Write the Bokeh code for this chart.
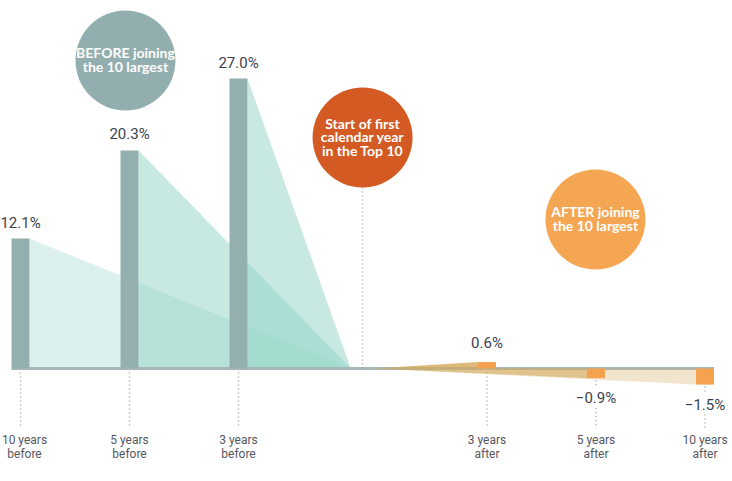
from bokeh.plotting import figure
from bokeh.models import Range1d
from bokeh.core.properties import value
from bokeh.embed import file_html
from bokeh.resources import INLINE

# ---- data ----
before_labels = ["10 years\nbefore", "5 years\nbefore", "3 years\nbefore"]
before_values = [12.1, 20.3, 27.0]
after_labels = ["3 years\nafter", "5 years\nafter", "10 years\nafter"]
after_values = [0.6, -0.9, -1.5]
circle_texts = ["BEFORE joining\nthe 10 largest",
                "Start of first\ncalendar year\nin the Top 10",
                "AFTER joining\nthe 10 largest"]

# ---- layout ----
W, H = 732, 481
PXX = 109.0                  # screen px per x unit
PX = 10.739                  # screen px per y unit
X0 = -20 / PXX
X1 = X0 + W / PXX
Y1 = 368 / PX
Y0 = Y1 - H / PX
before_x = [0, 1, 2]
after_x = [4.28, 5.28, 6.28]
bw = 18 / PXX
apex_before = 3.03
apex_after = 3.24
center_x = 3.138
circle_pos = [(0.963, 28.68), (center_x, 21.51), (5.275, 13.87)]
circle_colors = ["#93aeae", "#d35a22", "#f5a653"]
R = 50  # circle radius px

NUM_FONT = value("Roboto")
LAB_FONT = value("Roboto")

p = figure(width=W, height=H, output_backend="svg", toolbar_location=None,
           x_range=Range1d(X0, X1), y_range=Range1d(Y0, Y1),
           x_axis_location=None, y_axis_location=None, min_border=0,
           outline_line_color=None, background_fill_color="white")
p.grid.visible = False

# before triangles
b_alphas = [0.31, 0.5, 0.5]
for x, v, a in zip(before_x, before_values, b_alphas):
    xr = x + bw / 2
    p.patch([xr, xr, apex_before], [v, 0, 0], fill_color="#8fd3c5",
            fill_alpha=a, line_color=None)

# baseline
p.line([before_x[0] - bw / 2, after_x[-1] + bw / 2], [0, 0],
       line_color="#a8b7ba", line_width=3)

# after triangles
a_alphas = [0.8, 0.55, 0.3]
for x, v, a in reversed(list(zip(after_x, after_values, a_alphas))):
    xl = x - bw / 2
    p.patch([apex_after, xl, xl], [0, v, 0], fill_color="#d4a95a",
            fill_alpha=a, line_color=None)

# bars
p.vbar(x=before_x, top=before_values, bottom=0, width=bw,
       fill_color="#94afb0", line_color=None)
p.vbar(x=after_x, top=[max(v, 0) for v in after_values],
       bottom=[min(v, 0) for v in after_values], width=bw,
       fill_color="#f4a24e", line_color=None)

# dotted ticks
tick_end = -60 / PX
dot = dict(line_color="#a0a0a0", line_width=1.5, line_dash="1 3")
for x in before_x:
    p.line([x, x], [-4 / PX, tick_end], **dot)
for x, v in zip(after_x, after_values):
    if v >= 0:
        p.line([x, x], [-4 / PX, tick_end], **dot)
    else:
        yl = v - 20 / PX
        p.line([x, x], [v - 2 / PX, yl + 10 / PX], **dot)
        p.line([x, x], [yl - 10 / PX, tick_end], **dot)
# center dotted line
p.line([center_x, center_x], [circle_pos[1][1] - R / PX, 0], **dot)

# value labels
def fmt(v):
    return f"{v:.1f}%".replace("-", "\u2212")

bl_y = [v + 16 / PX for v in before_values]
p.text(x=before_x, y=bl_y, text=[fmt(v) for v in before_values],
       text_align="center", text_baseline="middle", text_font=NUM_FONT,
       text_font_size="15px", text_color="#3d3f4e")
al_y = [v + (19 / PX if v >= 0 else -20 / PX) for v in after_values]
p.text(x=after_x, y=al_y, text=[fmt(v) for v in after_values],
       text_align="center", text_baseline="middle", text_font=NUM_FONT,
       text_font_size="15px", text_color="#3d3f4e")

# category labels (one text per line)
cat_x = before_x + after_x
cat_labels = before_labels + after_labels
lx, ly, lt, lo = [], [], [], []
for i, (x, lab) in enumerate(zip(cat_x, cat_labels)):
    for j, line in enumerate(lab.split("\n")):
        lx.append(x)
        ly.append(-(71 + 14.5 * j) / PX)
        lt.append(line)
        lo.append(4 if i == 0 else 0)
p.text(x=lx, y=ly, text=lt, x_offset=lo,
       text_align="center", text_baseline="middle", text_font=LAB_FONT,
       text_font_size="12px", text_color="#55575f")

# circles
p.scatter(x=[c[0] for c in circle_pos], y=[c[1] for c in circle_pos],
          size=2 * R, marker="circle", fill_color=circle_colors, line_color=None)
cx, cy, ct = [], [], []
for (px_, py_), txt in zip(circle_pos, circle_texts):
    lines = txt.split("\n")
    n = len(lines)
    for j, line in enumerate(lines):
        cx.append(px_)
        cy.append(py_ - (j - (n - 1) / 2) * 13.5 / PX + 1 / PX)
        ct.append(line)
p.text(x=cx, y=cy, text=ct, text_align="center", text_baseline="middle",
       text_font=value("Lato"), text_font_style="bold", text_font_size="14px",
       text_color="white")

open("out.html", "w").write(file_html(p, INLINE))
